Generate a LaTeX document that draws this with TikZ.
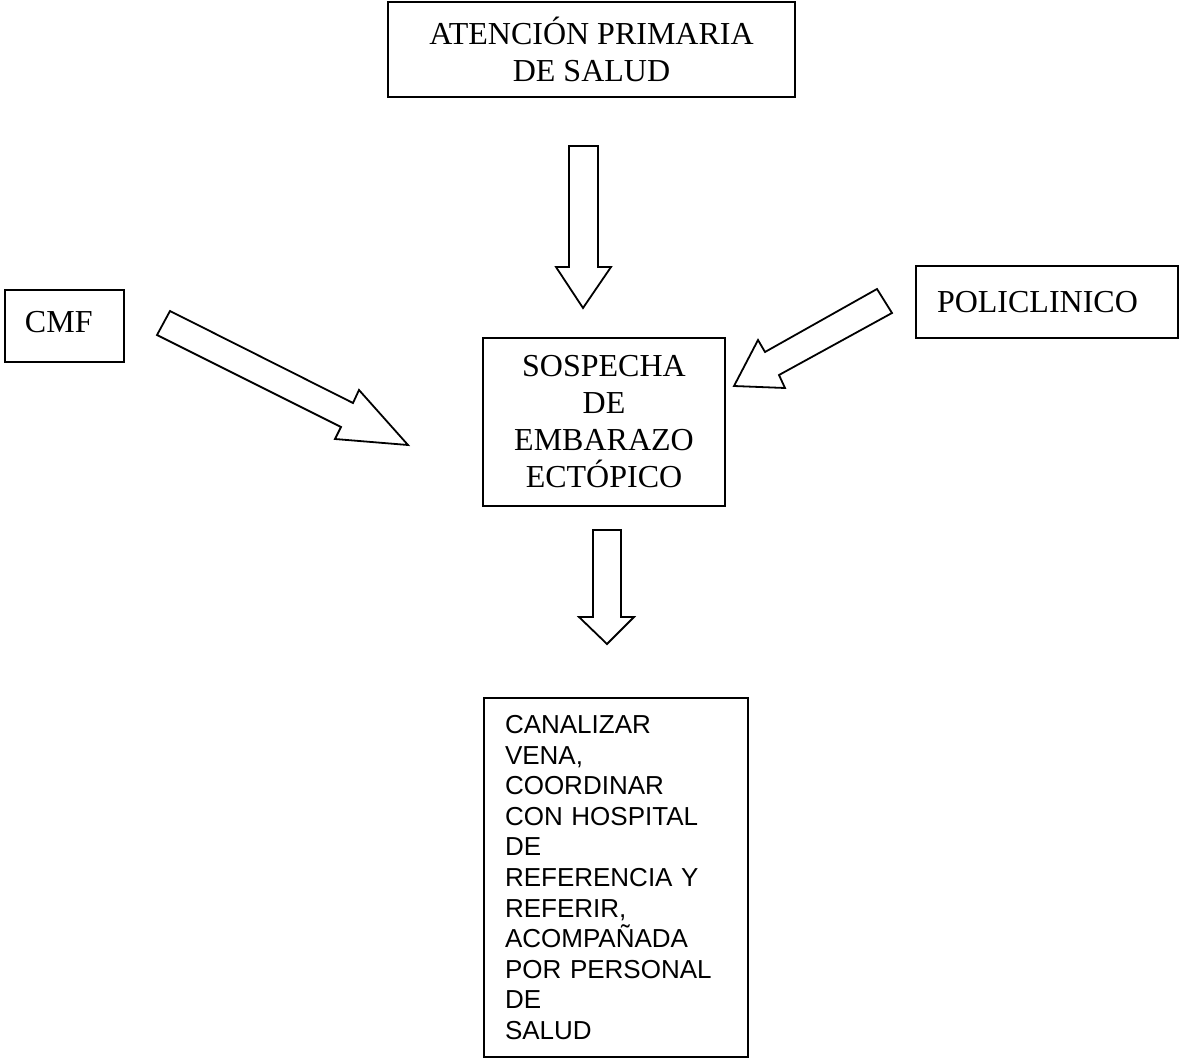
\documentclass[tikz,border=0pt]{standalone}
\usepackage{fontspec}
\setmainfont{Liberation Serif}
\setsansfont{Liberation Sans}
\usetikzlibrary{positioning}

\tikzset{
  box/.style={draw, line width=0.95pt, inner sep=0pt, font=\fontsize{16}{18.5}\selectfont},
  sansbox/.style={box, font=\sffamily\fontsize{13}{15.3}\selectfont},
  blockarrow/.style={draw, line width=0.9pt, line join=miter, fill=white}
}

\begin{document}
\begin{tikzpicture}[x=0.5pt,y=-0.5pt]
            \useasboundingbox (0,0) rectangle (1180,1061);

            \node[box, minimum width=203.5pt, minimum height=47.5pt, align=center] (APS) at (591.5,49.5) {ATENCIÓN PRIMARIA\\DE SALUD};
            \node[box, minimum width=59.5pt, minimum height=36pt, text width=39.5pt, inner xsep=10pt, text depth=4pt, align=left] (CMF) at (64.5,326) {CMF};
            \node[box, minimum width=131pt, minimum height=36pt, text width=110pt, inner xsep=10.5pt, align=left] (Poli) at (1047,302) {POLICLINICO};
            \node[box, minimum width=121pt, minimum height=84pt, align=center] (Sospecha) at (604,422) {SOSPECHA\\DE\\EMBARAZO\\ECTÓPICO};

            \node[sansbox, minimum width=132pt, minimum height=179.5pt, text width=111pt, inner xsep=10.5pt, align=left] (Conducta) at (616,877.5) {CANALIZAR\\
                VENA,\\
                COORDINAR\\
                CON HOSPITAL\\
                DE\\
                REFERENCIA Y\\
                REFERIR,\\
                ACOMPAÑADA\\
                POR PERSONAL\\
                DE\\
                SALUD
            };

            % block arrows
            \draw[blockarrow] (569,146) -- (598,146) -- (598,267) -- (611,267) -- (583,308) -- (556,267) -- (569,267) -- cycle;
            \draw[blockarrow] (170,311) -- (353,403) -- (359,390) -- (408,445) -- (335,439) -- (341,427) -- (157,335) -- cycle;
            \draw[blockarrow] (877,289) -- (765,352) -- (758,340) -- (734,386) -- (785,388) -- (779,375) -- (892,313) -- cycle;
            \draw[blockarrow] (593,530) -- (621,530) -- (621,617) -- (634,617) -- (607,644) -- (579,617) -- (593,617) -- cycle;
        \end{tikzpicture}
\end{document}
